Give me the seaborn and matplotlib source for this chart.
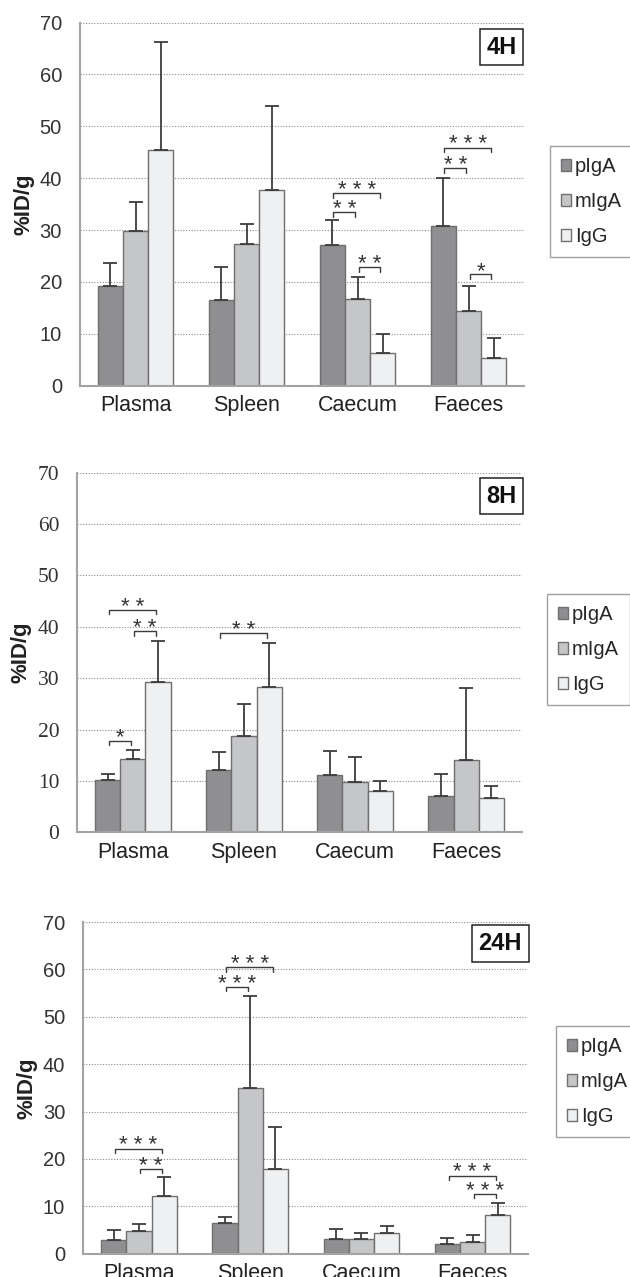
import numpy as np
import pandas as pd
import seaborn as sns
import matplotlib.pyplot as plt

organs = ['Plasma', 'Spleen', 'Caecum', 'Faeces']
antibodies = ['pIgA', 'mIgA', 'IgG']
colors = ['#8e8f93', '#c5c6c8', '#eff0f2']
yticks = [0, 10, 20, 30, 40, 50, 60, 70]

# 4H : means and (upper) SD per antibody, in organ order
pIgA_4h = [19.3, 16.6, 27.2, 30.7]
mIgA_4h = [29.8, 27.3, 16.8, 14.4]
IgG_4h = [45.4, 37.8, 6.3, 5.3]
pIgA_4h_sd = [4.3, 6.2, 4.8, 9.3]
mIgA_4h_sd = [5.6, 3.9, 4.2, 4.8]
IgG_4h_sd = [20.9, 16.1, 3.6, 3.8]

# 8H
pIgA_8h = [10.1, 12.2, 11.2, 7.0]
mIgA_8h = [14.3, 18.7, 9.8, 14.0]
IgG_8h = [29.3, 28.3, 8.0, 6.6]
pIgA_8h_sd = [1.3, 3.4, 4.6, 4.4]
mIgA_8h_sd = [1.7, 6.3, 4.9, 14.1]
IgG_8h_sd = [8.0, 8.6, 1.9, 2.4]

# 24H
pIgA_24h = [2.9, 6.5, 3.2, 2.1]
mIgA_24h = [4.7, 34.9, 3.0, 2.4]
IgG_24h = [12.1, 17.9, 4.4, 8.2]
pIgA_24h_sd = [2.0, 1.2, 2.1, 1.2]
mIgA_24h_sd = [1.6, 19.4, 1.3, 1.5]
IgG_24h_sd = [4.1, 8.8, 1.4, 2.6]

# significance brackets: (organ index, antibody a, antibody b, bracket height, stars)
sig_4h = [(2, 0, 1, 33.5, '* *'), (2, 0, 2, 37.1, '* * *'), (2, 1, 2, 22.9, '* *'),
          (3, 0, 1, 41.9, '* *'), (3, 0, 2, 45.9, '* * *'), (3, 1, 2, 21.5, '*')]
sig_8h = [(0, 0, 1, 17.8, '*'), (0, 1, 2, 39.2, '* *'), (0, 0, 2, 43.3, '* *'),
          (1, 0, 2, 38.8, '* *')]
sig_24h = [(0, 0, 2, 22.2, '* * *'), (0, 1, 2, 17.9, '* *'),
           (1, 0, 1, 56.3, '* * *'), (1, 0, 2, 60.4, '* * *'),
           (3, 0, 2, 16.5, '* * *'), (3, 1, 2, 12.6, '* * *')]

sns.set_style('white')
plt.rcParams['font.family'] = ['Liberation Sans', 'DejaVu Sans']

W, H = 630, 1277
fig = plt.figure(figsize=(W / 100, H / 100), dpi=100)

spine_col = '#a3a3a3'
err_col = '#3d3d3d'


def px_axes(left, right, top, bottom):
    return fig.add_axes([left / W, 1 - bottom / H, (right - left) / W, (bottom - top) / H])


def draw_panel(ax, means, sds, sig, tag, tag_pos, legend_xy, serif=False):
    df = pd.DataFrame({'Organ': np.tile(organs, 3),
                       'Antibody': np.repeat(antibodies, 4),
                       'value': np.concatenate(means)})
    sns.barplot(data=df, x='Organ', y='value', hue='Antibody', order=organs,
                hue_order=antibodies, palette=colors, width=0.68, gap=0,
                edgecolor='#6f6f6f', linewidth=1, errorbar=None, ax=ax, zorder=2)
    conts = list(ax.containers)
    centers = []
    for k, cont in enumerate(conts):
        xs = [p.get_x() + p.get_width() / 2 for p in cont]
        ys = [p.get_height() for p in cont]
        centers.append(xs)
        ax.errorbar(xs, ys, yerr=[np.zeros(4), sds[k]], fmt='none', ecolor=err_col,
                    elinewidth=1.3, capsize=5, capthick=1.3, zorder=3)

    for ci, a, b, y, lab in sig:
        x1 = centers[a][ci] + 0.01
        x2 = centers[b][ci] - 0.02
        h = 0.9
        ax.plot([x1, x1, x2, x2], [y - h, y, y, y - h], color=err_col, lw=1, zorder=4)
        ax.annotate(lab, xy=((x1 + x2) / 2, y), xytext=(0, -2), textcoords='offset points',
                    ha='center', va='baseline', fontsize=16, color='#333333')

    ax.set_ylim(0, 70)
    ax.set_xlim(-0.5, 3.5)
    tick_font = ['Liberation Serif', 'DejaVu Serif'] if serif else ['Liberation Sans', 'DejaVu Sans']
    ax.set_yticks(yticks, labels=[str(v) for v in yticks], fontfamily=tick_font,
                  fontsize=15.5 if serif else 14.5)
    ax.yaxis.grid(True, linestyle=(0, (1, 1.5)), color='#8a8a8a', lw=0.8)
    ax.set_axisbelow(True)
    for s in ['top', 'right']:
        ax.spines[s].set_visible(False)
    for s in ['left', 'bottom']:
        ax.spines[s].set_color(spine_col)
        ax.spines[s].set_linewidth(1.5)
    ax.set_xticks(np.arange(-0.5, 4, 1), minor=True)
    ax.tick_params(axis='x', which='major', length=0, pad=7, labelsize=15.5, labelcolor='#222222')
    ax.tick_params(axis='x', which='minor', length=5, width=1.2, color=spine_col, direction='out')
    ax.tick_params(axis='y', length=5, width=1.2, color=spine_col, direction='out', pad=8,
                   labelcolor='#333333')
    ax.set_xlabel('')
    ax.set_ylabel('%ID/g', fontsize=16, fontweight='bold', va='center', color='#222222')
    ax.yaxis.set_label_coords(-0.127, 0.5)

    ax.text(tag_pos[0], tag_pos[1], tag, transform=ax.transAxes, ha='right', va='center',
            fontsize=17, fontweight='bold', color='#111111',
            bbox=dict(boxstyle='square,pad=0.28', fc='white', ec='#222222', lw=1.1))

    handles = [plt.Rectangle((0, 0), 1, 1, fc=c, ec='#707070', lw=1) for c in colors]
    if ax.get_legend() is not None:
        ax.get_legend().remove()
    ax.legend(handles, antibodies, loc='upper left',
              bbox_to_anchor=(legend_xy[0] / W, 1 - legend_xy[1] / H),
              bbox_transform=fig.transFigure, fontsize=14.5, frameon=True, fancybox=False,
              edgecolor='#8a8a8a', handlelength=0.5, handleheight=0.5, handletextpad=0.2,
              labelspacing=0.8, borderpad=0.55, borderaxespad=0)


ax1 = px_axes(80, 524, 22.5, 385.7)
draw_panel(ax1, [pIgA_4h, mIgA_4h, IgG_4h], [pIgA_4h_sd, mIgA_4h_sd, IgG_4h_sd],
           sig_4h, '4H', (0.983, 0.932), (550, 146))

ax2 = px_axes(77.3, 521.7, 472.7, 832.3)
draw_panel(ax2, [pIgA_8h, mIgA_8h, IgG_8h], [pIgA_8h_sd, mIgA_8h_sd, IgG_8h_sd],
           sig_8h, '8H', (0.988, 0.935), (547, 594), serif=True)

ax3 = px_axes(83.3, 528.3, 922, 1253.7)
draw_panel(ax3, [pIgA_24h, mIgA_24h, IgG_24h], [pIgA_24h_sd, mIgA_24h_sd, IgG_24h_sd],
           sig_24h, '24H', (0.986, 0.935), (556, 1026))

fig.savefig('out.png', dpi=100, facecolor='white')
